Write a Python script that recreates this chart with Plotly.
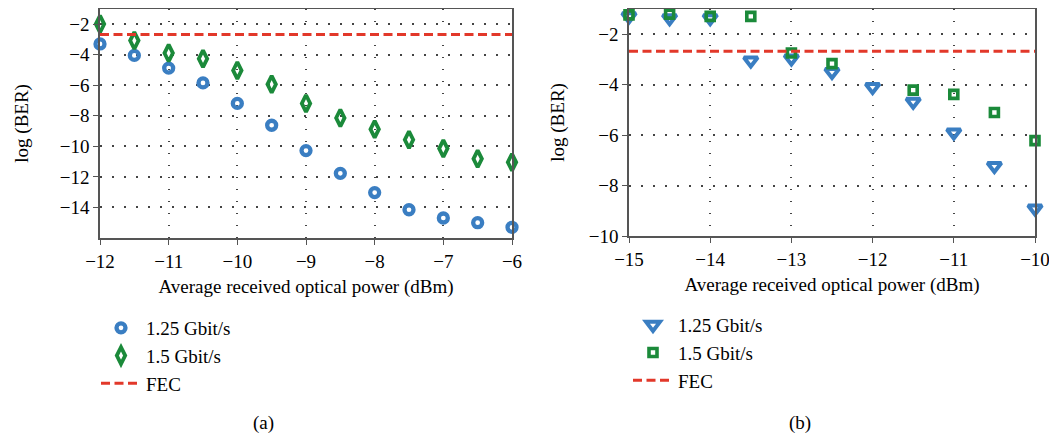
import plotly.graph_objects as go

# ---- data: panel (a)
xa = [-12, -11.5, -11, -10.5, -10, -9.5, -9, -8.5, -8, -7.5, -7, -6.5, -6]
a_125 = [-3.30, -4.05, -4.88, -5.85, -7.19, -8.62, -10.28, -11.77, -13.03, -14.15, -14.69, -15.0, -15.3]
a_15 = [-2.0, -3.08, -3.9, -4.27, -5.03, -5.94, -7.19, -8.14, -8.88, -9.57, -10.15, -10.82, -11.04]
fec_a_x = [-12, -6]

# ---- data: panel (b)
xb = [-15, -14.5, -14, -13.5, -13, -12.5, -12, -11.5, -11, -10.5, -10]
b_125 = [-1.30, -1.37, -1.37, -3.05, -2.97, -3.5, -4.1, -4.68, -5.9, -7.23, -8.91]
b_15 = [-1.24, -1.21, -1.30, -1.30, -2.75, -3.17, None, -4.22, -4.39, -5.11, -6.22]
fec_b_x = [-15, -10]

FEC = -2.68
names = ["1.25 Gbit/s", "1.5 Gbit/s", "FEC"]

BLUE = "#3a7ec2"
GREEN = "#1b8a3a"
RED = "#e2382a"
FONT = "Liberation Serif"

# page has an 8px body margin; figure is sized so it ends at the window edge
W, H = 1049, 428

fig = go.Figure()
fig.add_trace(go.Scatter(x=xa, y=a_125, mode="markers", name=names[0],
                         marker=dict(symbol="circle-open", size=9, color=BLUE, line=dict(width=4.3, color=BLUE)),
                         xaxis="x", yaxis="y", legend="legend", cliponaxis=False))
fig.add_trace(go.Scatter(x=xa, y=a_15, mode="markers", name=names[1],
                         marker=dict(symbol="diamond-tall-open", size=12, color=GREEN, line=dict(width=3.8, color=GREEN)),
                         xaxis="x", yaxis="y", legend="legend", cliponaxis=False))
fig.add_trace(go.Scatter(x=fec_a_x, y=[FEC] * len(fec_a_x), mode="lines", name=names[2],
                         line=dict(color=RED, width=3, dash="9px,4.5px"),
                         xaxis="x", yaxis="y", legend="legend"))

fig.add_trace(go.Scatter(x=xb, y=b_125, mode="markers", name=names[0],
                         marker=dict(symbol="triangle-down-open", size=12, color=BLUE, line=dict(width=4, color=BLUE)),
                         xaxis="x2", yaxis="y2", legend="legend2", cliponaxis=False))
fig.add_trace(go.Scatter(x=xb, y=b_15, mode="markers", name=names[1],
                         marker=dict(symbol="square-open", size=8, color=GREEN, line=dict(width=3.6, color=GREEN)),
                         xaxis="x2", yaxis="y2", legend="legend2", cliponaxis=False))
fig.add_trace(go.Scatter(x=fec_b_x, y=[FEC] * len(fec_b_x), mode="lines", name=names[2],
                         line=dict(color=RED, width=3, dash="9px,4.5px"),
                         xaxis="x2", yaxis="y2", legend="legend2"))

axis_common = dict(showline=True, linecolor="#555555", linewidth=1.5, mirror=True,
                   ticks="outside", ticklen=5, tickcolor="#555555", tickwidth=1.2,
                   showgrid=True, gridcolor="#444444", gridwidth=1.5, griddash="1.5px,10.5px",
                   zeroline=False, automargin=False,
                   tickfont=dict(size=19, family=FONT, color="black"))
title_font = dict(size=19, family=FONT, color="black")

fig.update_layout(
    width=W, height=H,
    margin=dict(l=0, r=0, t=0, b=0, autoexpand=False),
    paper_bgcolor="white", plot_bgcolor="white",
    font=dict(family=FONT, color="black"),
    xaxis=dict(domain=[92 / W, 504 / W], range=[-12, -6], dtick=1, anchor="y",
               title=dict(text="Average received optical power (dBm)", font=title_font, standoff=9),
               **axis_common),
    yaxis=dict(domain=[1 - 230 / H, 1 - 0.8 / H], range=[-16, -1], tickvals=[-14, -12, -10, -8, -6, -4, -2],
               anchor="x",
               title=dict(text="log (BER)", font=title_font, standoff=26),
               **axis_common),
    xaxis2=dict(domain=[621 / W, 1027 / W], range=[-15, -10], dtick=1, anchor="y2",
                title=dict(text="Average received optical power (dBm)", font=title_font, standoff=9),
                **axis_common),
    yaxis2=dict(domain=[1 - 228 / H, 1 - 0.8 / H], range=[-10, -1], tickvals=[-10, -8, -6, -4, -2], anchor="x2",
                title=dict(text="log (BER)", font=title_font, standoff=19),
                **axis_common),
    legend=dict(x=88 / W, y=1 - 348 / H, xanchor="left", yanchor="middle", bgcolor="rgba(0,0,0,0)",
                font=dict(size=19, family=FONT, color="black"), tracegroupgap=0, itemwidth=40),
    legend2=dict(x=620 / W, y=1 - 345 / H, xanchor="left", yanchor="middle", bgcolor="rgba(0,0,0,0)",
                 font=dict(size=19, family=FONT, color="black"), tracegroupgap=0, itemwidth=40),
    showlegend=True,
    annotations=[
        dict(text="(a)", x=255 / W, y=1 - 415 / H, xref="paper", yref="paper", showarrow=False,
             xanchor="center", yanchor="middle", font=dict(size=19, family=FONT, color="black")),
        dict(text="(b)", x=792 / W, y=1 - 415 / H, xref="paper", yref="paper", showarrow=False,
             xanchor="center", yanchor="middle", font=dict(size=19, family=FONT, color="black")),
    ],
)

fig.write_html("out.html")
